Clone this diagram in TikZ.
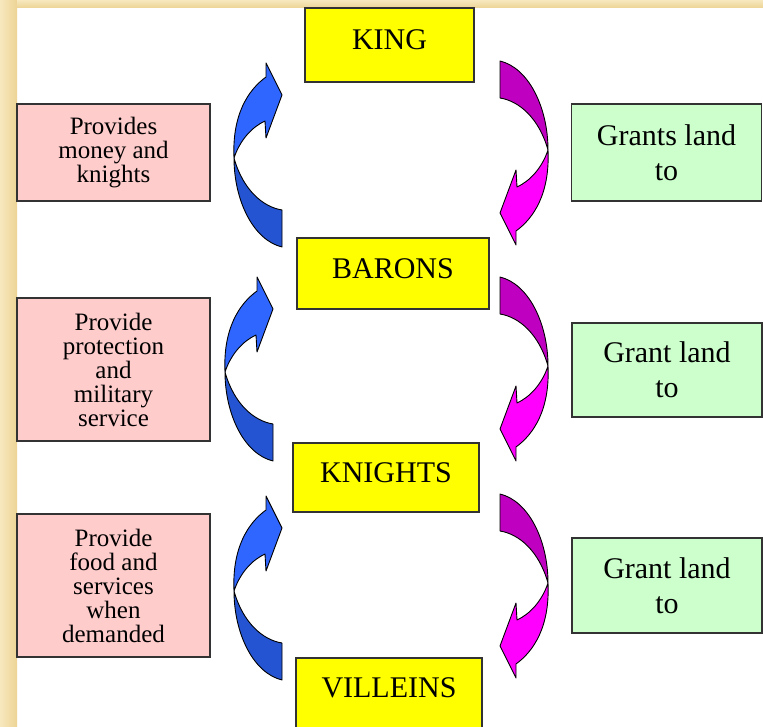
\documentclass[tikz,border=0pt]{standalone}
\usepackage{fontspec}
\setmainfont{Liberation Serif}
\definecolor{beigeA}{HTML}{F7E8BE}
\definecolor{beigeB}{HTML}{EDD495}
\definecolor{pinkbox}{HTML}{FFCCCC}
\definecolor{greenbox}{HTML}{CCFFCC}
\definecolor{yellowbox}{HTML}{FFFF00}
\definecolor{blueL}{HTML}{2F66FF}
\definecolor{blueD}{HTML}{2454D2}
\definecolor{magL}{HTML}{FF00FF}
\definecolor{magD}{HTML}{C000C0}
\definecolor{edge}{HTML}{333333}
\tikzset{
  titlebox/.style={draw=edge, line width=1.4pt, fill=yellowbox, inner sep=0pt,
    font=\fontsize{30}{30}\selectfont, text height=20pt, text depth=10pt},
  pinkstyle/.style={draw=edge, line width=1.4pt, fill=pinkbox, inner sep=0pt, align=center,
    minimum width=193pt, font=\fontsize{25}{24}\selectfont},
  greenstyle/.style={draw=edge, line width=1.4pt, fill=greenbox, inner sep=0pt, align=center,
    minimum width=190pt, font=\fontsize{30}{35}\selectfont},
  pics/curvearrow/.style 2 args={code={
    \filldraw[fill=#1, draw=black, line width=0.9pt, line join=round]
      (-24,3) .. controls (-26,-40) and (-10,-65) .. (8,-78) -- (8,-92) -- (24,-60)
      -- (8,-17) -- (7,-34) .. controls (-6,-28) and (-18,-15) .. (-24,3) -- cycle;
    \filldraw[fill=#2, draw=black, line width=0.9pt, line join=round]
      (-24,3) .. controls (-24,45) and (-5,85) .. (24,92) -- (24,55)
      .. controls (5,52) and (-15,35) .. (-24,3) -- cycle;
  }}
}
\begin{document}
\begin{tikzpicture}[x=1pt,y=-1pt]
\useasboundingbox (0,0) rectangle (763,727);
\clip (0,0) rectangle (763,727);
\fill[white] (0,0) rectangle (763,727);
\shade[left color=beigeA, right color=beigeB] (0,0) rectangle (17,727);
\shade[top color=beigeA, bottom color=beigeB] (17,0) rectangle (763,8);

% hierarchy boxes
\node[titlebox, minimum width=169pt, minimum height=74pt] (king) at (389.5,45) {KING};
\node[titlebox, minimum width=192pt, minimum height=71pt] (barons) at (393,273.5) {BARONS};
\node[titlebox, minimum width=186pt, minimum height=69pt] (knights) at (386,477.5) {KNIGHTS};
\node[titlebox, minimum width=186pt, minimum height=82pt, text depth=24pt] (villeins) at (389,699) {VILLEINS};

% left boxes
\node[pinkstyle, minimum height=97pt] (p1) at (113.5,152.5) {Provides\\money and\\knights};
\node[pinkstyle, minimum height=143pt] (p2) at (113.5,369.5) {Provide\\protection\\and\\military\\service};
\node[pinkstyle, minimum height=143pt] (p3) at (113.5,585.5) {Provide\\food and\\services\\when\\demanded};

% right boxes
\node[greenstyle, minimum height=97pt] (g1) at (666.5,152.5) {Grants land\\to};
\node[greenstyle, minimum height=94pt] (g2) at (667,370) {Grant land\\to};
\node[greenstyle, minimum height=95pt] (g3) at (667,585.5) {Grant land\\to};

% curved block arrows
\pic at (258,155) {curvearrow={blueL}{blueD}};
\pic at (249,369) {curvearrow={blueL}{blueD}};
\pic at (258,588) {curvearrow={blueL}{blueD}};
\pic[rotate=180] at (524,153) {curvearrow={magL}{magD}};
\pic[rotate=180] at (524,369) {curvearrow={magL}{magD}};
\pic[rotate=180] at (524,586) {curvearrow={magL}{magD}};
\end{tikzpicture}
\end{document}
